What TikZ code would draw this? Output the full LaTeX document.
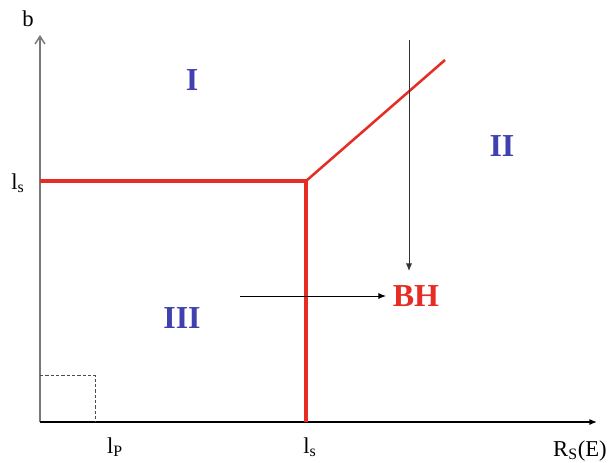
\documentclass[tikz,border=0pt]{standalone}
\usepackage{fontspec}
\setmainfont{Liberation Serif}
\usepackage{tikz}
\usetikzlibrary{
  arrows.meta,
  positioning
}
\definecolor{regioncolor}{RGB}{64, 64, 176}
\definecolor{boundcolor}{RGB}{230, 45, 35}
\definecolor{axiscolor}{RGB}{120, 120, 120}
\tikzset{
regionlabel/.style={
  font=\fontsize{24}{28}\selectfont\bfseries,
  text=regioncolor
},
axislabel/.style={
  font=\fontsize{17}{20}\selectfont,
  text=black,
  inner sep=1pt
},
boundary/.style={
  draw=boundcolor,
  line width=2.4pt
},
slope/.style={
  draw=boundcolor,
  line width=1.9pt
},
arrow/.style={
  -{Latex[length=2.0mm,width=1.6mm]},
  line width=0.75pt,
  draw=black
},
guide/.style={
  draw=black!70,
  dashed,
  dash pattern=on 2.5pt off 1.5pt,
  line width=0.4pt
}
}

\begin{document}
\begin{tikzpicture}[x=0.75pt,y=-0.75pt]
  \useasboundingbox (0,0) rectangle (611,462);
  % axes
  \coordinate (origin) at (40,422);
  \coordinate (ytop) at (40,35);
  \coordinate (xend) at (597,422);
  \draw[axiscolor, line width=1.1pt, -{Straight Barb[length=2mm,width=2.6mm]}] (origin) -- (ytop);
  \draw[arrow, line width=1pt] (origin) -- (xend);
  % small region near the origin
  \coordinate (sqtop) at (40,375);
  \coordinate (sqcorner) at (95,375);
  \coordinate (sqfoot) at (95,422);
  \draw[guide] (sqtop) -- (sqcorner) -- (sqfoot);
  % boundaries
  \coordinate (lsleft) at (40,181);
  \coordinate (knee) at (306,181);
  \coordinate (lsfoot) at (306,422);
  \coordinate (slopeend) at (445,60);
  \draw[boundary] (lsleft) -- (knee);
  \draw[boundary] (knee) -- (lsfoot);
  \draw[slope] (knee) -- (slopeend);
  % axis labels
  \node[axislabel] (blabel) at (28,19) {b};
  \node[axislabel] (lsy) at (18,183) {l\textsubscript{s}};
  \node[axislabel] (lpx) at (115,447) {l\textsubscript{P}};
  \node[axislabel] (lsx) at (310,447) {l\textsubscript{s}};
  \node[axislabel] (rsx) at (580,451) {R\textsubscript{S}(E)};
  % regions
  \node[regionlabel] (one) at (192,80) {I};
  \node[regionlabel] (two) at (502,146) {II};
  \node[regionlabel] (three) at (182,318) {III};
  \node[font=\fontsize{24}{28}\selectfont\bfseries, text=boundcolor, inner sep=5pt] (bh) at (416,296) {BH};
  % arrows to BH
  \coordinate (vtop) at (409,40);
  \coordinate (vtip) at (409,271);
  \coordinate (hstart) at (240,296);
  \draw[arrow, line width=0.6pt, draw=black!80] (vtop) -- (vtip);
  \draw[arrow, line width=0.6pt] (hstart) -- (bh.west);
\end{tikzpicture}
\end{document}
